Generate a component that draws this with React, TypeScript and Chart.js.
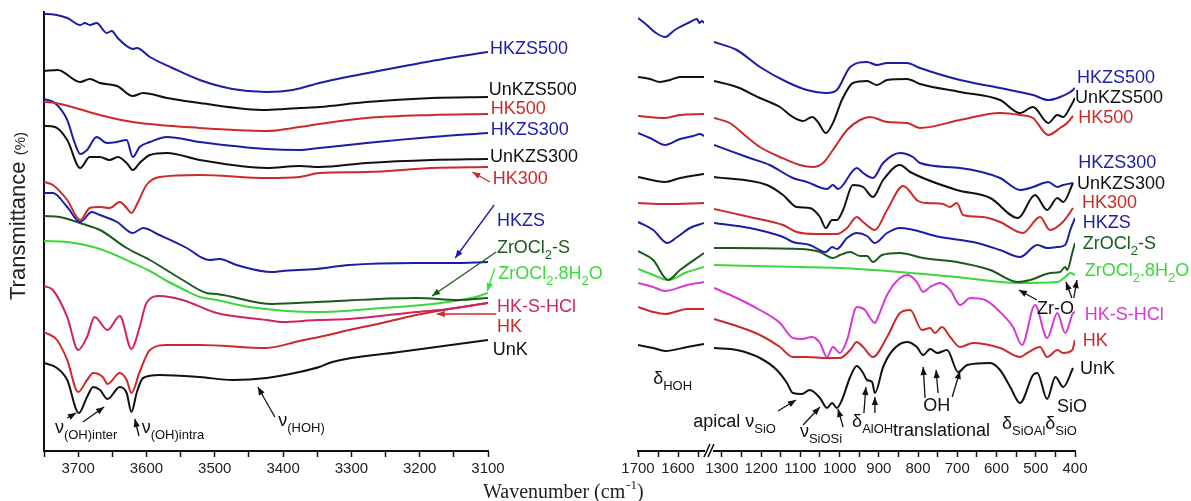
import React, { useEffect, useRef } from 'react';
import { Chart, registerables } from 'chart.js';
Chart.register(...registerables);

type Pt = [number, number];

// ---------- Left panel (3750 – 3100 cm-1), transmittance in arbitrary offset units ----------
const L_HKZS500: Pt[] = [[3750,437],[3746,437],[3716,433],[3697,426],[3690,428],[3683,426],[3673,428],[3658,418],[3651,420],[3642,413],[3629,405],[3620,402],[3614,403],[3595,394],[3562,383],[3522,371],[3474,362],[3424,359],[3386,361],[3347,368],[3328,371],[3230,384],[3157,393],[3100,399]];
const L_UnKZS500: Pt[] = [[3750,380],[3730,381],[3697,369],[3683,372],[3668,368],[3643,365],[3620,355],[3605,358],[3570,353],[3522,348],[3424,341],[3376,343],[3347,344],[3278,349],[3182,353],[3100,354]];
const L_HK500: Pt[] = [[3750,349],[3733,348],[3668,336],[3620,329],[3522,323],[3424,320],[3376,324],[3347,327],[3278,333],[3182,336],[3100,337]];
const L_HKZS300: Pt[] = [[3750,352],[3734,348],[3716,331],[3705,308],[3697,297],[3687,301],[3673,314],[3658,308],[3643,309],[3629,311],[3620,294],[3610,304],[3595,309],[3570,314],[3522,309],[3424,302],[3376,301],[3347,303],[3278,308],[3182,314],[3100,318]];
const L_UnKZS300: Pt[] = [[3750,325],[3734,324],[3716,311],[3697,283],[3683,294],[3668,294],[3654,291],[3642,294],[3629,288],[3620,281],[3610,288],[3595,296],[3570,298],[3522,291],[3424,283],[3376,285],[3347,284],[3278,288],[3182,291],[3100,292]];
const L_HK300: Pt[] = [[3750,269],[3737,266],[3716,251],[3697,231],[3683,243],[3668,244],[3654,243],[3639,249],[3629,243],[3622,238],[3613,248],[3600,266],[3581,274],[3522,276],[3424,273],[3376,274],[3347,278],[3278,279],[3182,283],[3100,284]];
const L_HKZS: Pt[] = [[3750,258],[3737,258],[3716,244],[3697,229],[3680,239],[3668,236],[3643,229],[3620,218],[3605,223],[3581,216],[3541,203],[3518,193],[3508,191],[3493,192],[3468,186],[3416,179],[3401,180],[3351,182],[3303,186],[3205,188],[3153,188],[3100,189]];
const L_ZrS: Pt[] = [[3750,235],[3727,234],[3693,227],[3668,221],[3629,203],[3595,191],[3547,171],[3512,158],[3497,157],[3416,147],[3351,149],[3205,153],[3143,151],[3100,153]];
const L_Zr8: Pt[] = [[3750,210],[3716,209],[3668,202],[3620,188],[3595,180],[3570,170],[3547,162],[3522,154],[3497,151],[3449,144],[3351,139],[3255,143],[3182,147],[3118,154],[3100,158]];
const L_HKSHCl: Pt[] = [[3750,165],[3737,161],[3716,134],[3700,101],[3687,114],[3676,134],[3657,121],[3639,135],[3622,102],[3610,124],[3600,148],[3581,155],[3547,151],[3497,138],[3424,131],[3401,129],[3351,131],[3303,132],[3205,139],[3157,142],[3100,148]];
const L_HK: Pt[] = [[3750,119],[3731,111],[3716,91],[3700,59],[3687,71],[3678,78],[3664,74],[3657,67],[3639,78],[3629,71],[3622,58],[3610,79],[3595,101],[3570,106],[3522,106],[3424,103],[3376,110],[3347,114],[3303,121],[3255,128],[3205,136],[3157,142],[3100,148]];
const L_UnK: Pt[] = [[3750,88],[3731,83],[3716,71],[3699,38],[3687,54],[3678,64],[3668,61],[3657,52],[3639,64],[3629,58],[3622,39],[3614,59],[3605,73],[3581,76],[3522,74],[3474,71],[3424,73],[3376,79],[3347,84],[3328,89],[3230,99],[3100,111]];

// ---------- Right panel, first segment (1700 – 1535 cm-1) ----------
const R1_HKZS500: Pt[] = [[1700,433],[1678,426],[1655,418],[1632,414],[1608,421],[1575,428],[1552,432],[1547,428],[1540,430],[1535,428]];
const R1_UnKZS500: Pt[] = [[1700,374],[1670,372],[1645,369],[1620,371],[1595,374],[1535,374]];
const R1_HK500: Pt[] = [[1700,335],[1637,333],[1595,336],[1535,337]];
const R1_HKZS300: Pt[] = [[1700,318],[1670,313],[1632,306],[1595,312],[1562,315],[1545,317],[1535,315]];
const R1_UnKZS300: Pt[] = [[1700,274],[1632,269],[1595,273],[1535,277]];
const R1_HK300: Pt[] = [[1700,248],[1630,247],[1535,248]];
const R1_HKZS: Pt[] = [[1700,229],[1662,221],[1627,208],[1602,214],[1570,223],[1535,228]];
const R1_ZrS: Pt[] = [[1700,200],[1662,191],[1625,171],[1595,181],[1535,198]];
const R1_Zr8: Pt[] = [[1700,182],[1662,176],[1625,171],[1577,179],[1535,184]];
const R1_HKSHCl: Pt[] = [[1700,168],[1662,164],[1632,160],[1577,166],[1535,169]];
const R1_HK: Pt[] = [[1700,144],[1662,139],[1632,137],[1577,142],[1535,142]];
const R1_UnK: Pt[] = [[1700,106],[1662,103],[1632,100],[1577,104],[1535,107]];

// ---------- Right panel, second segment (1320 – 400 cm-1) ----------
const R2_HKZS500: Pt[] = [[1320,409],[1262,401],[1203,384],[1134,369],[1083,361],[1032,358],[1007,361],[973,384],[930,389],[905,386],[879,388],[828,388],[795,383],[693,371],[591,363],[507,356],[468,351],[438,354],[412,359],[400,363]];
const R2_UnKZS500: Pt[] = [[1320,370],[1262,364],[1203,353],[1152,344],[1119,334],[1093,330],[1070,334],[1055,329],[1035,318],[1017,328],[994,351],[966,368],[930,370],[905,366],[879,371],[828,372],[795,367],[693,359],[591,351],[540,338],[507,344],[468,328],[445,336],[430,334],[412,344],[400,353]];
const R2_HK500: Pt[] = [[1320,333],[1280,328],[1236,314],[1203,304],[1152,294],[1101,286],[1068,284],[1042,288],[1017,301],[981,321],[948,331],[922,334],[879,329],[828,328],[795,323],[693,331],[591,338],[540,336],[507,333],[468,316],[438,323],[420,328],[405,335]];
const R2_HKZS300: Pt[] = [[1320,306],[1229,293],[1178,286],[1119,273],[1083,269],[1032,262],[1017,266],[1004,262],[956,283],[940,278],[915,273],[889,288],[846,298],[813,294],[795,288],[693,283],[591,273],[540,261],[507,264],[468,269],[445,264],[430,266],[405,268]];
const R2_UnKZS300: Pt[] = [[1320,274],[1185,266],[1144,256],[1109,244],[1076,243],[1050,234],[1035,223],[1019,231],[1007,231],[991,241],[966,266],[940,264],[915,254],[889,271],[846,286],[820,279],[701,261],[616,253],[545,233],[502,256],[471,241],[445,253],[430,249],[405,268]];
const R2_HK300: Pt[] = [[1320,242],[1229,234],[1144,226],[1109,219],[1058,217],[1007,217],[981,223],[956,234],[940,229],[910,221],[879,241],[838,265],[800,250],[777,248],[736,247],[719,244],[701,248],[685,236],[634,234],[591,229],[533,218],[489,234],[464,221],[431,229],[405,243]];
const R2_HKZS: Pt[] = [[1320,228],[1229,223],[1144,214],[1119,209],[1076,206],[1035,199],[1019,204],[1007,202],[981,213],[956,218],[930,215],[910,208],[879,218],[846,223],[744,214],[660,209],[591,201],[540,194],[496,206],[471,203],[445,204],[425,206],[412,221],[400,233]];
const R2_ZrS: Pt[] = [[1320,203],[1101,202],[1050,199],[1017,193],[999,196],[973,199],[948,195],[930,195],[915,189],[892,196],[846,198],[787,193],[701,189],[616,181],[547,169],[514,171],[463,178],[438,179],[425,184],[420,181],[407,198],[400,208]];
const R2_Zr8: Pt[] = [[1320,186],[1101,184],[999,183],[846,179],[701,174],[547,168],[445,169],[425,174],[412,178],[400,176]];
const R2_HKSHCl: Pt[] = [[1320,163],[1262,153],[1203,141],[1152,128],[1119,113],[1096,112],[1070,114],[1050,108],[1032,94],[1017,104],[999,98],[981,111],[956,144],[935,141],[922,133],[910,128],[902,134],[879,156],[846,173],[826,176],[803,169],[787,159],[769,164],[744,168],[718,161],[693,146],[667,153],[629,151],[591,139],[558,124],[535,106],[502,146],[471,113],[445,138],[425,118],[405,138],[400,139]];
const R2_HK: Pt[] = [[1320,132],[1262,125],[1203,116],[1152,104],[1119,94],[1083,94],[1032,93],[999,93],[973,101],[956,109],[940,104],[915,94],[879,114],[846,138],[820,141],[790,121],[769,123],[757,118],[739,124],[718,114],[693,104],[660,108],[591,103],[540,94],[522,98],[489,104],[471,94],[445,101],[430,98],[407,101],[400,111]];
const R2_UnK: Pt[] = [[1320,103],[1262,101],[1203,93],[1160,81],[1134,68],[1119,58],[1096,57],[1076,61],[1050,53],[1032,43],[1019,48],[1007,43],[994,51],[973,74],[956,85],[940,78],[930,71],[917,69],[910,58],[889,84],[864,101],[828,109],[803,104],[787,96],[769,102],[751,98],[726,101],[698,79],[675,86],[616,88],[591,81],[565,64],[540,48],[507,76],[496,78],[471,52],[450,74],[430,64],[405,83]];

// ---------- Axis ranges ----------
const LEFT_RANGE: [number, number] = [3100, 3750];
const R1_RANGE: [number, number] = [1535, 1700];
const R2_RANGE: [number, number] = [400, 1320];
const Y_RANGE: [number, number] = [0, 439];

// ---------- Styles ----------
const BLUE = '#1c1ca8';
const BLACK = '#111111';
const RED = '#cc2a2a';
const DKGREEN = '#1a5a1a';
const GREEN = '#3ad83a';
const CRIMSON = '#d0235f';
const MAGENTA = '#d63ad6';
const SANS = "'Liberation Sans', Arial, sans-serif";
const SERIF = "'Liberation Serif', 'Times New Roman', serif";

type Part = { t: string; sub?: boolean; sup?: boolean };
type Item =
  | { kind: 'text'; x: number; y: number; parts: Part[]; color: string; size?: number }
  | { kind: 'arrow'; x1: number; y1: number; x2: number; y2: number; color: string }
  | { kind: 'break' };

const P = (t: string): Part => ({ t });
const S = (t: string): Part => ({ t, sub: true });

const leftSeries = [
  { label: 'HKZS500', data: L_HKZS500, color: BLUE },
  { label: 'UnKZS500', data: L_UnKZS500, color: BLACK },
  { label: 'HK500', data: L_HK500, color: RED },
  { label: 'HKZS300', data: L_HKZS300, color: BLUE },
  { label: 'UnKZS300', data: L_UnKZS300, color: BLACK },
  { label: 'HK300', data: L_HK300, color: RED },
  { label: 'HKZS', data: L_HKZS, color: BLUE },
  { label: 'ZrOCl2-S', data: L_ZrS, color: DKGREEN },
  { label: 'ZrOCl2.8H2O', data: L_Zr8, color: GREEN },
  { label: 'HK-S-HCl', data: L_HKSHCl, color: CRIMSON },
  { label: 'HK', data: L_HK, color: RED },
  { label: 'UnK', data: L_UnK, color: BLACK },
];
const r1Series = [
  { label: 'HKZS500', data: R1_HKZS500, color: BLUE },
  { label: 'UnKZS500', data: R1_UnKZS500, color: BLACK },
  { label: 'HK500', data: R1_HK500, color: RED },
  { label: 'HKZS300', data: R1_HKZS300, color: BLUE },
  { label: 'UnKZS300', data: R1_UnKZS300, color: BLACK },
  { label: 'HK300', data: R1_HK300, color: RED },
  { label: 'HKZS', data: R1_HKZS, color: BLUE },
  { label: 'ZrOCl2-S', data: R1_ZrS, color: DKGREEN },
  { label: 'ZrOCl2.8H2O', data: R1_Zr8, color: GREEN },
  { label: 'HK-S-HCl', data: R1_HKSHCl, color: MAGENTA },
  { label: 'HK', data: R1_HK, color: RED },
  { label: 'UnK', data: R1_UnK, color: BLACK },
];
const r2Series = [
  { label: 'HKZS500', data: R2_HKZS500, color: BLUE },
  { label: 'UnKZS500', data: R2_UnKZS500, color: BLACK },
  { label: 'HK500', data: R2_HK500, color: RED },
  { label: 'HKZS300', data: R2_HKZS300, color: BLUE },
  { label: 'UnKZS300', data: R2_UnKZS300, color: BLACK },
  { label: 'HK300', data: R2_HK300, color: RED },
  { label: 'HKZS', data: R2_HKZS, color: BLUE },
  { label: 'ZrOCl2-S', data: R2_ZrS, color: DKGREEN },
  { label: 'ZrOCl2.8H2O', data: R2_Zr8, color: GREEN },
  { label: 'HK-S-HCl', data: R2_HKSHCl, color: MAGENTA },
  { label: 'HK', data: R2_HK, color: RED },
  { label: 'UnK', data: R2_UnK, color: BLACK },
];

const leftItems: Item[] = [
  { kind: 'text', x: 3097, y: 403, parts: [P('HKZS500')], color: BLUE },
  { kind: 'text', x: 3099, y: 362, parts: [P('UnKZS500')], color: BLACK },
  { kind: 'text', x: 3096, y: 343, parts: [P('HK500')], color: RED },
  { kind: 'text', x: 3096, y: 322, parts: [P('HKZS300')], color: BLUE },
  { kind: 'text', x: 3097, y: 295, parts: [P('UnKZS300')], color: BLACK },
  { kind: 'text', x: 3093, y: 273, parts: [P('HK300')], color: RED },
  { kind: 'text', x: 3087, y: 231, parts: [P('HKZS')], color: BLUE },
  { kind: 'text', x: 3087, y: 204, parts: [P('ZrOCl'), S('2'), P('-S')], color: DKGREEN },
  { kind: 'text', x: 3085, y: 178, parts: [P('ZrOCl'), S('2'), P('.8H'), S('2'), P('O')], color: GREEN },
  { kind: 'text', x: 3087, y: 145, parts: [P('HK-S-HCl')], color: CRIMSON },
  { kind: 'text', x: 3087, y: 125, parts: [P('HK')], color: RED },
  { kind: 'text', x: 3093, y: 102, parts: [P('UnK')], color: BLACK },
  { kind: 'arrow', x1: 3097, y1: 269, x2: 3123, y2: 279, color: RED },
  { kind: 'arrow', x1: 3091, y1: 246, x2: 3148, y2: 193, color: BLUE },
  { kind: 'arrow', x1: 3088, y1: 199, x2: 3182, y2: 155, color: DKGREEN },
  { kind: 'arrow', x1: 3090, y1: 183, x2: 3101, y2: 160, color: GREEN },
  { kind: 'arrow', x1: 3088, y1: 137, x2: 3175, y2: 137, color: RED },
  { kind: 'text', x: 3734, y: 24, parts: [P('ν'), S('(OH)inter')], color: BLACK },
  { kind: 'text', x: 3607, y: 24, parts: [P('ν'), S('(OH)intra')], color: BLACK },
  { kind: 'text', x: 3407, y: 31, parts: [P('ν'), S('(HOH)')], color: BLACK },
  { kind: 'arrow', x1: 3716, y1: 33, x2: 3703, y2: 38, color: BLACK },
  { kind: 'arrow', x1: 3693, y1: 29, x2: 3662, y2: 44, color: BLACK },
  { kind: 'arrow', x1: 3611, y1: 15, x2: 3617, y2: 32, color: BLACK },
  { kind: 'arrow', x1: 3412, y1: 34, x2: 3437, y2: 64, color: BLACK },
];

const r1Items: Item[] = [
  { kind: 'text', x: 1662, y: 73, parts: [P('δ'), S('HOH')], color: BLACK },
];

const r2Items: Item[] = [
  { kind: 'text', x: 395, y: 374, parts: [P('HKZS500')], color: BLUE },
  { kind: 'text', x: 400, y: 354, parts: [P('UnKZS500')], color: BLACK },
  { kind: 'text', x: 392, y: 334, parts: [P('HK500')], color: RED },
  { kind: 'text', x: 392, y: 289, parts: [P('HKZS300')], color: BLUE },
  { kind: 'text', x: 395, y: 268, parts: [P('UnKZS300')], color: BLACK },
  { kind: 'text', x: 382, y: 249, parts: [P('HK300')], color: RED },
  { kind: 'text', x: 380, y: 229, parts: [P('HKZS')], color: BLUE },
  { kind: 'text', x: 380, y: 208, parts: [P('ZrOCl'), S('2'), P('-S')], color: DKGREEN },
  { kind: 'text', x: 375, y: 181, parts: [P('ZrOCl'), S('2'), P('.8H'), S('2'), P('O')], color: GREEN },
  { kind: 'text', x: 375, y: 137, parts: [P('HK-S-HCl')], color: MAGENTA },
  { kind: 'text', x: 380, y: 111, parts: [P('HK')], color: RED },
  { kind: 'text', x: 387, y: 83, parts: [P('UnK')], color: BLACK },
  { kind: 'text', x: 497, y: 143, parts: [P('Zr-O')], color: BLACK },
  { kind: 'arrow', x1: 497, y1: 151, x2: 543, y2: 161, color: BLACK },
  { kind: 'arrow', x1: 408, y1: 153, x2: 423, y2: 169, color: BLACK },
  { kind: 'arrow', x1: 403, y1: 153, x2: 395, y2: 171, color: BLACK },
  { kind: 'text', x: 1373, y: 30, parts: [P('apical ν'), S('SiO')], color: BLACK },
  { kind: 'arrow', x1: 1157, y1: 40, x2: 1111, y2: 51, color: BLACK },
  { kind: 'text', x: 1101, y: 20, parts: [P('ν'), S('SiOSi')], color: BLACK },
  { kind: 'arrow', x1: 1093, y1: 26, x2: 1050, y2: 44, color: BLACK },
  { kind: 'arrow', x1: 991, y1: 24, x2: 1004, y2: 42, color: BLACK },
  { kind: 'text', x: 968, y: 30, parts: [P('δ'), S('AlOH')], color: BLACK },
  { kind: 'arrow', x1: 938, y1: 38, x2: 933, y2: 64, color: BLACK },
  { kind: 'arrow', x1: 910, y1: 38, x2: 910, y2: 54, color: BLACK },
  { kind: 'text', x: 864, y: 21, parts: [P('translational')], color: BLACK },
  { kind: 'text', x: 787, y: 46, parts: [P('OH')], color: BLACK },
  { kind: 'arrow', x1: 782, y1: 53, x2: 787, y2: 84, color: BLACK },
  { kind: 'arrow', x1: 749, y1: 58, x2: 754, y2: 81, color: BLACK },
  { kind: 'arrow', x1: 713, y1: 54, x2: 693, y2: 80, color: BLACK },
  { kind: 'text', x: 586, y: 28, parts: [P('δ'), S('SiOAl'), P('δ'), S('SiO')], color: BLACK },
  { kind: 'text', x: 446, y: 45, parts: [P('SiO')], color: BLACK },
  { kind: 'break' },
];

function drawRich(ctx: CanvasRenderingContext2D, x: number, yc: number, parts: Part[], size: number, color: string, family: string) {
  ctx.fillStyle = color;
  ctx.textBaseline = 'alphabetic';
  ctx.textAlign = 'left';
  const base = yc + size * 0.36;
  let cx = x;
  for (const p of parts) {
    const s = p.sub || p.sup ? Math.round(size * 0.72) : size;
    ctx.font = `${s}px ${family}`;
    const dy = p.sub ? size * 0.3 : p.sup ? -size * 0.42 : 0;
    ctx.fillText(p.t, cx, base + dy);
    cx += ctx.measureText(p.t).width;
  }
}

function drawArrow(ctx: CanvasRenderingContext2D, x1: number, y1: number, x2: number, y2: number, color: string) {
  ctx.strokeStyle = color;
  ctx.fillStyle = color;
  ctx.lineWidth = 1.3;
  ctx.beginPath();
  ctx.moveTo(x1, y1);
  ctx.lineTo(x2, y2);
  ctx.stroke();
  const a = Math.atan2(y2 - y1, x2 - x1);
  const L = 8, W = 3.2;
  ctx.beginPath();
  ctx.moveTo(x2, y2);
  ctx.lineTo(x2 - L * Math.cos(a) + W * Math.sin(a), y2 - L * Math.sin(a) - W * Math.cos(a));
  ctx.lineTo(x2 - L * Math.cos(a) - W * Math.sin(a), y2 - L * Math.sin(a) + W * Math.cos(a));
  ctx.closePath();
  ctx.fill();
}

function makeAnnot(items: Item[], frame: boolean) {
  return {
    id: 'annot',
    afterDraw(chart: any) {
      const ctx: CanvasRenderingContext2D = chart.ctx;
      const xs = chart.scales.x;
      const ys = chart.scales.y;
      const area = chart.chartArea;
      ctx.save();
      for (const it of items) {
        if (it.kind === 'text') {
          drawRich(ctx, xs.getPixelForValue(it.x), ys.getPixelForValue(it.y), it.parts, it.size || 18, it.color, SANS);
        } else if (it.kind === 'arrow') {
          drawArrow(ctx, xs.getPixelForValue(it.x1), ys.getPixelForValue(it.y1), xs.getPixelForValue(it.x2), ys.getPixelForValue(it.y2), it.color);
        } else if (it.kind === 'break') {
          ctx.strokeStyle = BLACK;
          ctx.lineWidth = 1.6;
          const l = area.left, b = area.bottom;
          ctx.beginPath();
          ctx.moveTo(l - 10, b + 6); ctx.lineTo(l - 4, b - 7);
          ctx.moveTo(l - 6, b + 6); ctx.lineTo(l, b - 7);
          ctx.stroke();
        }
      }
      if (frame) {
        // y-axis title
        ctx.save();
        ctx.translate(25, 300);
        ctx.rotate(-Math.PI / 2);
        ctx.fillStyle = '#222';
        ctx.textBaseline = 'alphabetic';
        ctx.textAlign = 'left';
        ctx.font = `22px ${SANS}`;
        ctx.fillText('Transmittance', 0, 0);
        const w = ctx.measureText('Transmittance ').width;
        ctx.font = `15px ${SANS}`;
        ctx.fillText('(%)', w, 0);
        ctx.restore();
        // x-axis title
        ctx.fillStyle = '#222';
        ctx.textBaseline = 'alphabetic';
        ctx.textAlign = 'left';
        ctx.font = `20px ${SERIF}`;
        let x = 483;
        const base = 498;
        ctx.fillText('Wavenumber (cm', x, base);
        x += ctx.measureText('Wavenumber (cm').width;
        ctx.font = `13px ${SERIF}`;
        ctx.fillText('-1', x + 1, base - 9);
        x += ctx.measureText('-1').width + 1;
        ctx.font = `20px ${SERIF}`;
        ctx.fillText(')', x, base);
      }
      ctx.restore();
    },
  };
}

function xScale(range: [number, number]) {
  return {
    type: 'linear',
    min: range[0],
    max: range[1],
    reverse: true,
    afterBuildTicks: (s: any) => {
      s.ticks = s.ticks.filter((t: any) => t.value % 50 === 0);
    },
    afterFit: (s: any) => {
      s.height = 50;
    },
    grid: { display: true, drawOnChartArea: false, drawTicks: true, tickLength: 6, tickColor: BLACK, tickWidth: 1.5 },
    border: { display: true, color: BLACK, width: 2 },
    ticks: {
      stepSize: 50,
      includeBounds: false,
      autoSkip: false,
      maxRotation: 0,
      padding: 3,
      color: '#222',
      font: { family: SANS, size: 15 },
      callback: (v: any) => (Number(v) % 100 === 0 ? String(v) : ''),
    },
  };
}

function buildConfig(series: any[], range: [number, number], padding: any, showY: boolean, items: Item[], frame: boolean) {
  return {
    type: 'line',
    data: {
      datasets: series.map((s) => ({
        label: s.label,
        data: s.data.map(([x, y]: Pt) => ({ x, y })),
        borderColor: s.color,
        backgroundColor: s.color,
        borderWidth: 2,
        pointRadius: 0,
        fill: false,
        cubicInterpolationMode: 'monotone',
      })),
    },
    options: {
      responsive: false,
      maintainAspectRatio: false,
      animation: false,
      devicePixelRatio: 1,
      events: [],
      layout: { padding },
      plugins: { legend: { display: false }, tooltip: { enabled: false } },
      scales: {
        x: xScale(range),
        y: showY
          ? {
              display: true,
              min: Y_RANGE[0],
              max: Y_RANGE[1],
              afterFit: (s: any) => {
                s.width = 44;
              },
              grid: { display: false },
              ticks: { display: false },
              border: { display: true, color: BLACK, width: 2 },
            }
          : { display: false, min: Y_RANGE[0], max: Y_RANGE[1] },
      },
    },
    plugins: [makeAnnot(items, frame)],
  };
}

function ChartCanvas({ left, width, config }: { left: number; width: number; config: () => any }) {
  const ref = useRef<HTMLCanvasElement>(null);
  useEffect(() => {
    const chart = new Chart(ref.current as HTMLCanvasElement, config());
    return () => chart.destroy();
  }, []);
  return (
    <canvas
      ref={ref}
      width={width}
      height={501}
      style={{ position: 'absolute', left, top: 0, width, height: 501 }}
    />
  );
}

export default function App() {
  return (
    <div style={{ position: 'absolute', left: 0, top: 0, width: 1191, height: 501, background: '#fff', overflow: 'hidden' }}>
      <ChartCanvas
        left={0}
        width={670}
        config={() => buildConfig(leftSeries, LEFT_RANGE, { left: 0, right: 182, top: 12, bottom: 0 }, true, leftItems, true)}
      />
      <ChartCanvas
        left={600}
        width={130}
        config={() => buildConfig(r1Series, R1_RANGE, { left: 38, right: 26, top: 12, bottom: 0 }, false, r1Items, false)}
      />
      <ChartCanvas
        left={600}
        width={591}
        config={() => buildConfig(r2Series, R2_RANGE, { left: 114, right: 116, top: 12, bottom: 0 }, false, r2Items, false)}
      />
    </div>
  );
}
